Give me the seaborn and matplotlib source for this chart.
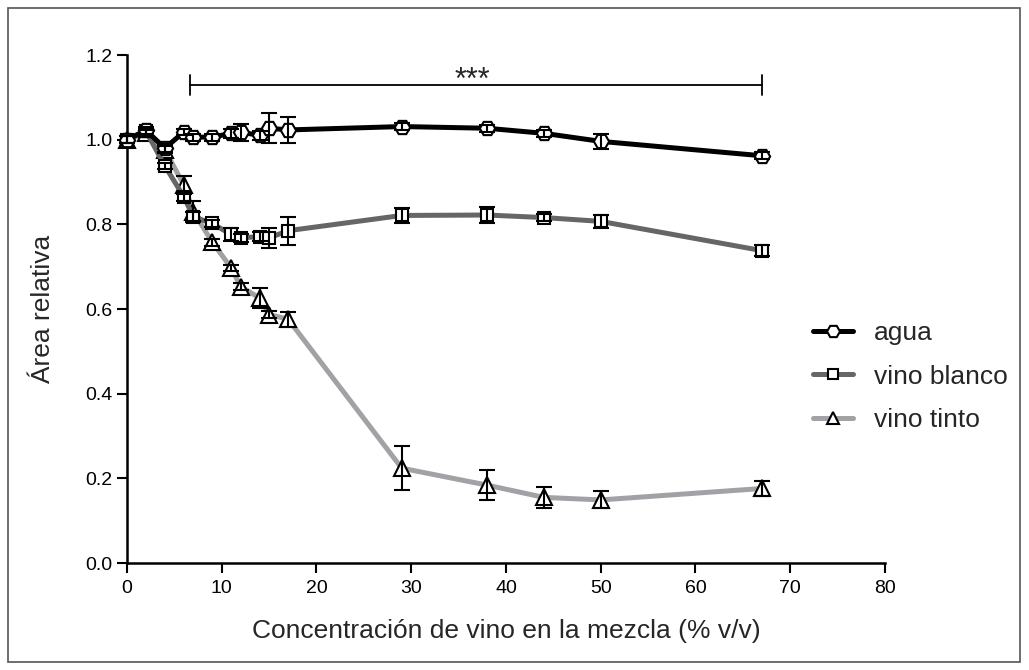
import numpy as np
import pandas as pd
import matplotlib
matplotlib.use("Agg")
import matplotlib.pyplot as plt
from matplotlib.patches import Rectangle
from matplotlib.lines import Line2D
import seaborn as sns

# Concentration of wine in the mixture (% v/v)
conc = [0, 2, 4, 6, 7, 9, 11, 12, 14, 15, 17, 29, 38, 44, 50, 67]

agua = [1.000, 1.022, 0.980, 1.018, 1.006, 1.006, 1.015, 1.018, 1.010, 1.027, 1.023,
        1.031, 1.027, 1.015, 0.996, 0.962]
agua_err = [0.008, 0.008, 0.010, 0.008, 0.008, 0.008, 0.010, 0.020, 0.010, 0.035, 0.030,
            0.008, 0.008, 0.008, 0.018, 0.008]

blanco = [1.000, 1.020, 0.938, 0.865, 0.818, 0.802, 0.776, 0.768, 0.771, 0.768, 0.785,
          0.821, 0.822, 0.816, 0.807, 0.738]
blanco_err = [0.008, 0.008, 0.008, 0.010, 0.010, 0.008, 0.015, 0.010, 0.010, 0.024, 0.033,
              0.018, 0.018, 0.008, 0.016, 0.013]

tinto = [1.000, 1.015, 0.976, 0.893, 0.830, 0.758, 0.697, 0.653, 0.626, 0.587, 0.576,
         0.224, 0.184, 0.155, 0.149, 0.176]
tinto_err = [0.008, 0.008, 0.008, 0.022, 0.024, 0.008, 0.008, 0.008, 0.024, 0.008, 0.018,
             0.052, 0.035, 0.024, 0.020, 0.018]

series_names = ["agua", "vino blanco", "vino tinto"]
series_colors = ["#000000", "#666666", "#a2a2a6"]
series_markers = ["H", "s", "^"]
series_msize = [11, 8.5, 11]

xticks = [0, 10, 20, 30, 40, 50, 60, 70, 80]
yticks = [0.0, 0.2, 0.4, 0.6, 0.8, 1.0, 1.2]

df = pd.DataFrame({
    "conc": conc * 3,
    "area": agua + blanco + tinto,
    "err": agua_err + blanco_err + tinto_err,
    "serie": sum([[n] * len(conc) for n in series_names], []),
})

sns.set_theme(style="ticks")
plt.rcParams["font.family"] = ["Liberation Sans", "DejaVu Sans"]

fig = plt.figure(figsize=(10.29, 6.70), dpi=100)
ax = fig.add_axes([0.1234, 0.1597, 0.7366, 0.7582])

# thin frame around the whole figure
fig.patches.append(Rectangle((0.0078, 0.012), 0.9835, 0.976, transform=fig.transFigure,
                             fill=False, edgecolor="#555555", linewidth=1.2, zorder=0))

# draw from the lightest series to the darkest so black sits on top
for idx in [2, 1, 0]:
    name = series_names[idx]
    sub = df[df["serie"] == name]
    sns.lineplot(data=sub, x="conc", y="area", ax=ax, color=series_colors[idx],
                 linewidth=3.6, marker=series_markers[idx], markersize=series_msize[idx],
                 markerfacecolor="white", markeredgecolor="black", markeredgewidth=1.5,
                 errorbar=None, clip_on=False, zorder=3 + (2 - idx))
    ax.errorbar(sub["conc"], sub["area"], yerr=sub["err"], fmt="none", ecolor="black",
                elinewidth=1.5, capsize=6, capthick=1.5, zorder=6, clip_on=False)

# significance bracket
yb = 1.129
ax.plot([6.7, 67], [yb, yb], color="black", lw=1.3)
ax.plot([6.7, 6.7], [yb - 0.024, yb + 0.024], color="black", lw=1.3)
ax.plot([67, 67], [yb - 0.024, yb + 0.024], color="black", lw=1.3)
ax.text(36.5, 1.12, "***", ha="center", va="baseline", fontsize=22)

ax.set_xlim(0, 80)
ax.set_ylim(0, 1.2)
ax.set_xticks(xticks)
ax.set_yticks(yticks)
ax.set_xticklabels([str(v) for v in xticks])
ax.set_yticklabels([f"{v:.1f}" for v in yticks])
ax.tick_params(axis="both", direction="out", length=7.5, width=1.5, labelsize=14,
               colors="black")
ax.tick_params(axis="x", pad=4.5)
ax.tick_params(axis="y", pad=3)
for s in ["top", "right"]:
    ax.spines[s].set_visible(False)
for s in ["left", "bottom"]:
    ax.spines[s].set_linewidth(1.8)
    ax.spines[s].set_color("black")

ax.set_xlabel("Concentración de vino en la mezcla (% v/v)", fontsize=19, labelpad=16)
ax.set_ylabel("Área relativa", fontsize=19, labelpad=22)

handles = [Line2D([0], [0], color=series_colors[i], lw=3.6, marker=series_markers[i],
                  markersize=series_msize[i] * 0.85, markerfacecolor="white",
                  markeredgecolor="black", markeredgewidth=1.5)
           for i in range(3)]
leg = ax.legend(handles, series_names, loc="upper left", bbox_to_anchor=(0.905, 0.476),
                frameon=False, fontsize=19, handlelength=1.5, labelspacing=0.74,
                handletextpad=0.8, borderaxespad=0, borderpad=0)

fig.savefig("out.png", dpi=100)
